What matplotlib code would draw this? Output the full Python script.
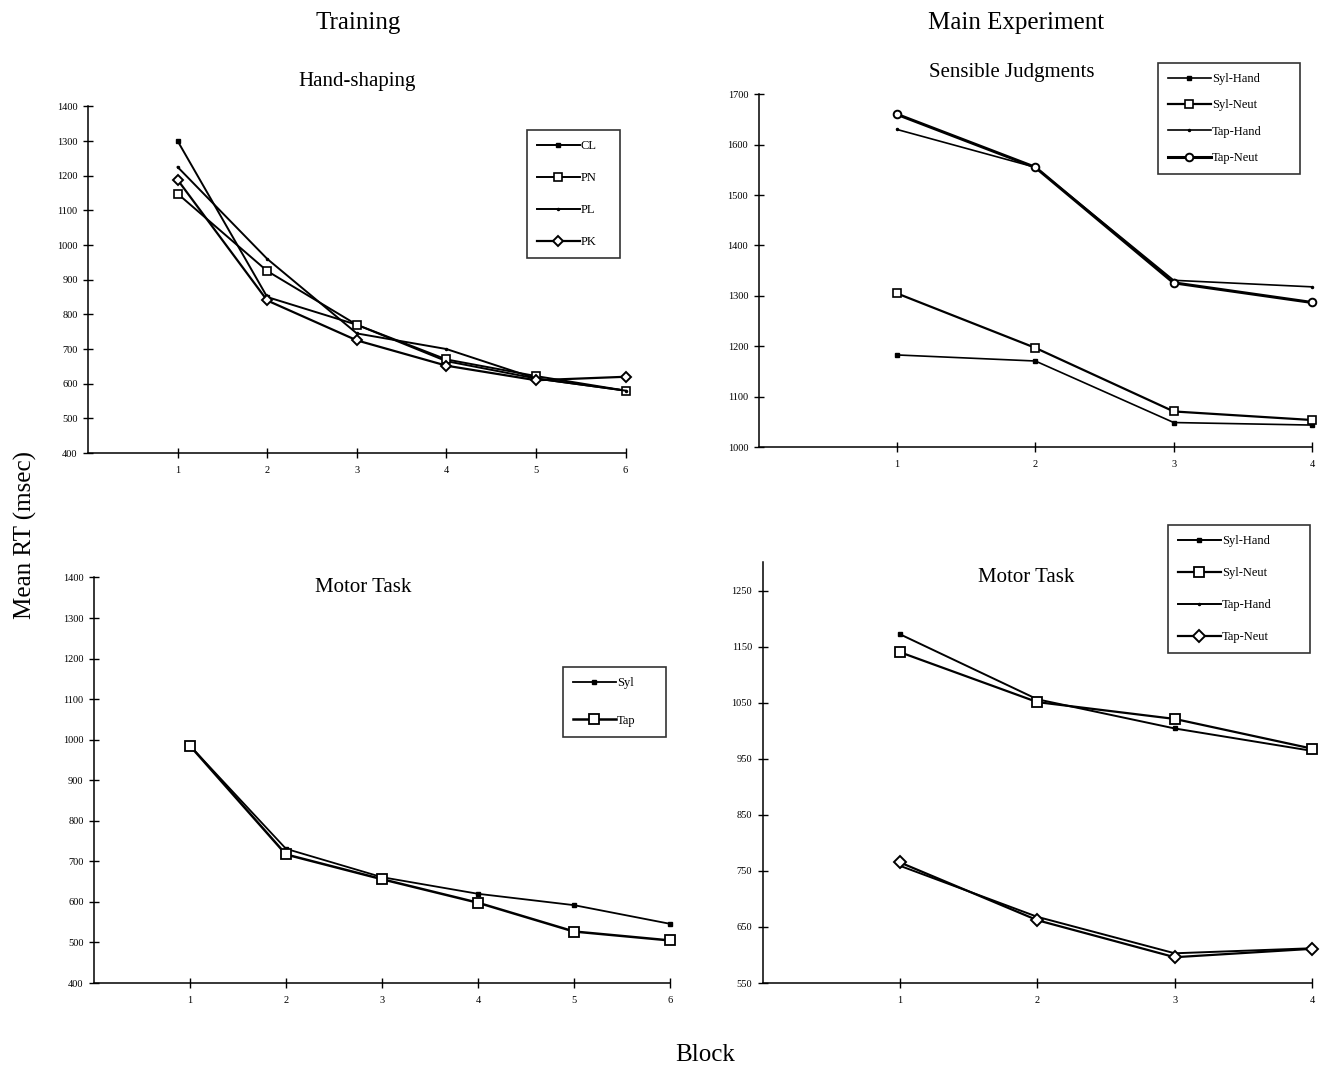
import matplotlib
matplotlib.use("Agg")
import matplotlib.pyplot as plt

plt.rcParams["font.family"] = ["Liberation Serif", "DejaVu Serif"]

# ── data ─────────────────────────────────────────────────────────────────
blocks6 = [1, 2, 3, 4, 5, 6]
blocks4 = [1, 2, 3, 4]

# Training / Hand-shaping
hs_cl = [1300, 850, 770, 665, 615, 580]
hs_pn = [1148, 925, 770, 670, 622, 580]
hs_pl = [1225, 960, 745, 700, 615, 580]
hs_pk = [1188, 840, 725, 652, 610, 620]

# Main experiment / Sensible Judgments
sj_syl_hand = [1183, 1171, 1049, 1044]
sj_syl_neut = [1305, 1197, 1071, 1054]
sj_tap_hand = [1630, 1555, 1331, 1318]
sj_tap_neut = [1660, 1555, 1326, 1287]

# Training / Motor Task
mt_syl = [985, 731, 661, 620, 592, 546]
mt_tap = [985, 717, 656, 598, 527, 505]

# Main experiment / Motor Task
me_syl_hand = [1172, 1056, 1004, 964]
me_syl_neut = [1140, 1051, 1021, 968]
me_tap_hand = [759, 668, 603, 612]
me_tap_neut = [765, 662, 596, 611]

W, H = 1324, 1070


def style_axes(ax, xmax, ylo, yhi, yticks):
    ax.set_xlim(0, xmax)
    ax.set_ylim(ylo, yhi)
    for s in ("top", "right"):
        ax.spines[s].set_visible(False)
    for s in ("left", "bottom"):
        ax.spines[s].set_linewidth(1.1)
    ax.set_xticks(range(1, xmax + 1))
    ax.set_yticks(yticks)
    ax.tick_params(direction="inout", length=7, width=1, labelsize=7.5)
    ax.tick_params(axis="y", pad=4)
    ax.tick_params(axis="x", pad=6)
    ax.patch.set_alpha(0)


def add_legend(ax, box, spacing):
    # box = (left, top, right, bottom) in pixels of the reference picture
    l, t, r, b = box
    rect = (l / W, 1 - b / H, (r - l) / W, (b - t) / H)
    leg = ax.legend(loc="upper left", bbox_to_anchor=rect,
                    bbox_transform=ax.figure.transFigure, mode="expand",
                    fontsize=9, handlelength=3.4, numpoints=1,
                    labelspacing=spacing, borderpad=0.8, handletextpad=0.1,
                    frameon=True, fancybox=False, borderaxespad=0)
    leg.get_frame().set_edgecolor("black")
    leg.get_frame().set_linewidth(1.2)
    return leg


fig = plt.figure(figsize=(13.24, 10.70), dpi=100)

kw = dict(color="black", clip_on=False)

# ── top left: Hand-shaping ───────────────────────────────────────────────
ax1 = fig.add_axes([0.0665, 0.5766, 0.406, 0.324])
style_axes(ax1, 6, 400, 1400, range(400, 1401, 100))
ax1.plot(blocks6, hs_cl, marker="s", ms=2.5, lw=1.4, label="CL", **kw)
ax1.plot(blocks6, hs_pn, marker="s", ms=6, mfc="white", mew=1.2, lw=1.4,
         label="PN", **kw)
ax1.plot(blocks6, hs_pl, marker=".", ms=3, lw=1.4, label="PL", **kw)
ax1.plot(blocks6, hs_pk, marker="D", ms=5, mfc="white", mew=1.4, lw=1.6,
         label="PK", **kw)
add_legend(ax1, (527, 130, 620, 265), 1.6)
ax1.set_title("Hand-shaping", fontsize=15, pad=15)

# ── top right: Sensible Judgments ────────────────────────────────────────
ax2 = fig.add_axes([0.573, 0.582, 0.418, 0.33])
style_axes(ax2, 4, 1000, 1700, range(1000, 1701, 100))
ax2.plot(blocks4, sj_syl_hand, marker="s", ms=2.5, lw=1.2,
         label="Syl-Hand", **kw)
ax2.plot(blocks4, sj_syl_neut, marker="s", ms=6, mfc="white", mew=1.2,
         lw=1.6, label="Syl-Neut", **kw)
ax2.plot(blocks4, sj_tap_hand, marker=".", ms=3, lw=1.2,
         label="Tap-Hand", **kw)
ax2.plot(blocks4, sj_tap_neut, marker="o", ms=5.5, mfc="white", mew=1.4,
         lw=2.2, label="Tap-Neut", **kw)
add_legend(ax2, (1158, 63, 1300, 176), 1.15)
ax2.text(0.457, 1.06, "Sensible Judgments", transform=ax2.transAxes,
         ha="center", va="center", fontsize=15)

# ── bottom left: Motor Task (training) ───────────────────────────────────
ax3 = fig.add_axes([0.071, 0.0813, 0.435, 0.379])
style_axes(ax3, 6, 400, 1400, range(400, 1401, 100))
ax3.plot(blocks6, mt_syl, marker="s", ms=3, lw=1.3, label="Syl", **kw)
ax3.plot(blocks6, mt_tap, marker="s", ms=7, mfc="white", mew=1.3, lw=1.8,
         label="Tap", **kw)
add_legend(ax3, (563, 667, 666, 749), 2.05)
ax3.text(0.467, 0.975, "Motor Task", transform=ax3.transAxes,
         ha="center", va="center", fontsize=15)

# ── bottom right: Motor Task (main experiment) ───────────────────────────
ax4 = fig.add_axes([0.576, 0.0813, 0.415, 0.393])
style_axes(ax4, 4, 550, 1300, range(550, 1251, 100))
ax4.plot(blocks4, me_syl_hand, marker="s", ms=3, lw=1.4,
         label="Syl-Hand", **kw)
ax4.plot(blocks4, me_syl_neut, marker="s", ms=7, mfc="white", mew=1.3,
         lw=1.6, label="Syl-Neut", **kw)
ax4.plot(blocks4, me_tap_hand, marker=".", ms=3, lw=1.4,
         label="Tap-Hand", **kw)
ax4.plot(blocks4, me_tap_neut, marker="D", ms=6, mfc="white", mew=1.4,
         lw=1.6, label="Tap-Neut", **kw)
add_legend(ax4, (1168, 525, 1310, 662), 1.6)
ax4.text(0.48, 0.964, "Motor Task", transform=ax4.transAxes,
         ha="center", va="center", fontsize=15)

# ── figure-level labels ──────────────────────────────────────────────────
fig.text(358 / W, 1 - 23 / H, "Training", ha="center", va="center",
         fontsize=18)
fig.text(1016 / W, 1 - 23 / H, "Main Experiment", ha="center",
         va="center", fontsize=18)
fig.text(25 / W, 1 - 535 / H, "Mean RT (msec)", rotation=90,
         ha="center", va="center", fontsize=18)
fig.text(705 / W, 1 - 1055 / H, "Block", ha="center", va="center",
         fontsize=18)

fig.savefig("out.png", dpi=100)
